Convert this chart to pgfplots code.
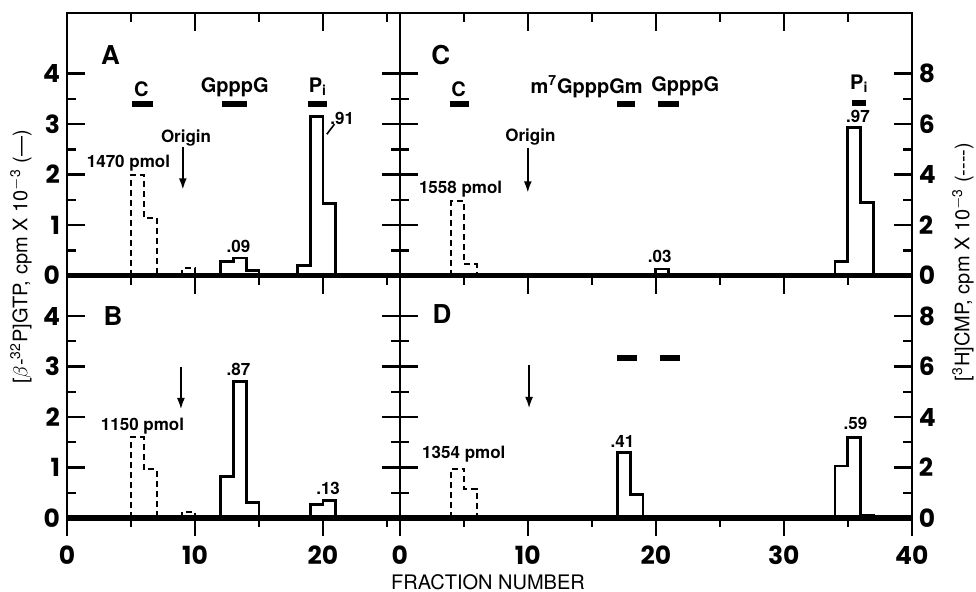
\documentclass[border=0pt]{standalone}
\usepackage{fontspec}
\setmainfont{TeX Gyre Heros}
\newfontfamily\poppins{Poppins}
\usepackage{pgfplots}
\pgfplotsset{compat=1.18}
\usetikzlibrary{arrows.meta}

\newcommand\tfont{\poppins\bfseries\fontsize{12.5}{14}\selectfont}
\newcommand\afont{\bfseries\fontsize{8.5}{10}\selectfont}
\newcommand\lfont{\bfseries\fontsize{10}{12}\selectfont}
\newcommand\pfont{\bfseries\fontsize{13}{15}\selectfont}

\tikzset{
  lab/.style={font=\afont, inner sep=0pt},
  mbar/.style={line width=3pt, black},
  darr/.style={line width=1.2pt, -{Latex[length=6pt,width=4pt]}},
}
\pgfplotsset{
  panel/.style={scale only axis, anchor=south west, xmin=0, ymin=0, clip=false,
    ytick={0,1,2,3,4}, minor ytick={0.5,1.5,2.5,3.5},
    tick align=inside, major tick length=9pt, minor tick length=4.5pt,
    axis line style={line width=1.3pt}, tick style={line width=1.2pt, black},
    tick label style={font=\tfont}, /pgf/number format/assume math mode=true},
  under/.style={scale only axis, anchor=south west, xmin=0, ymin=0,
    ytick=\empty, xtick pos=left, tick align=outside,
    major tick length=9pt, minor tick length=4.5pt,
    axis line style={draw=none}, tick style={line width=1.2pt, black},
    tick label style={font=\tfont}, xticklabel style={yshift=-1.5pt},
    /pgf/number format/assume math mode=true},
  solidh/.style={const plot, black, line width=1.4pt, mark=none},
  dashh/.style={const plot, black, line width=1pt, dash pattern=on 3pt off 2pt, mark=none},
}

\begin{document}
\begin{tikzpicture}
% ---- A (top left)
\begin{axis}[panel, at={(0pt,121.2pt)}, width=166.4pt, height=131.3pt,
  xmax=26, ymax=5.2, xtick={0,10,20}, minor xtick={5,15,25},
  xtick pos=right, xticklabels={}, yticklabel pos=left]
\addplot[dashh] coordinates {(5,0) (5,2.0) (6,1.15) (7,0)};
\addplot[dashh] coordinates {(9,0) (9,0.15) (10,0)};
\addplot[solidh] coordinates {(12,0) (12,0.28) (13,0.35) (14,0.1) (15,0)};
\addplot[solidh] coordinates {(18,0) (18,0.2) (19,3.15) (20,1.42) (21,0)};
\draw[line width=2.6pt] (rel axis cs:0,0) -- (rel axis cs:1,0);
\node[font=\pfont] at (axis cs:3.4,4.37) {A};
\node[font=\lfont] at (axis cs:5.8,3.7) {C};
\draw[mbar] (axis cs:5.1,3.4) -- (axis cs:6.7,3.4);
\node[font=\lfont] at (axis cs:13.1,3.72) {GpppG};
\draw[mbar] (axis cs:12.1,3.4) -- (axis cs:14.1,3.4);
\node[font=\lfont] at (axis cs:19.6,3.74) {P\textsubscript{i}};
\draw[mbar] (axis cs:18.8,3.4) -- (axis cs:20.3,3.4);
\node[lab] at (axis cs:21.5,3.12) {.91};
\draw[line width=0.8pt] (axis cs:20.3,2.8) -- (axis cs:20.9,3.0);
\node[lab] at (axis cs:13.4,0.57) {.09};
\node[lab] at (axis cs:4.8,2.22) {1470 pmol};
\node[lab] at (axis cs:9.3,2.73) {Origin};
\draw[darr] (axis cs:9.05,2.54) -- (axis cs:9.05,1.69);
\end{axis}
% ---- B (bottom left)
\begin{axis}[panel, at={(0pt,0pt)}, width=166.4pt, height=121.2pt,
  xmax=26, ymax=4.8, xtick={0,10,20}, minor xtick={5,15,25},
  xtick pos=right, xticklabels={}, yticklabel pos=left]
\addplot[dashh] coordinates {(5,0) (5,1.6) (6,0.97) (7,0)};
\addplot[dashh] coordinates {(9,0) (9,0.12) (10,0)};
\addplot[solidh] coordinates {(12,0) (12,0.82) (13,2.7) (14,0.3) (15,0)};
\addplot[solidh] coordinates {(19,0) (19,0.26) (20,0.34) (21,0)};
\draw[line width=2.6pt] (rel axis cs:0,0) -- (rel axis cs:1,0);
\node[font=\pfont] at (axis cs:3.6,4.0) {B};
\node[lab] at (axis cs:13.4,2.94) {.87};
\node[lab] at (axis cs:20.4,0.58) {.13};
\node[lab] at (axis cs:5.9,1.81) {1150 pmol};
\draw[darr] (axis cs:8.9,3.0) -- (axis cs:8.9,2.14);
\end{axis}
\begin{axis}[under, at={(0pt,0pt)}, width=166.4pt, height=121.2pt,
  xmax=26, ymax=4.8, xtick={0,10,20}, minor xtick={5,15,25}]
\end{axis}
% ---- C (top right)
\begin{axis}[panel, at={(166.4pt,121.2pt)}, width=256pt, height=131.3pt,
  xmax=40, ymax=5.2, xtick={0,10,20,30,40}, minor xtick={5,15,25,35},
  xtick pos=right, xticklabels={}, yticklabel pos=right, yticklabels={0,2,4,6,8}]
\addplot[dashh] coordinates {(4,0) (4,1.47) (5,0.23) (6,0)};
\addplot[solidh] coordinates {(20,0) (20,0.13) (21,0)};
\addplot[solidh] coordinates {(34,0) (34,0.28) (35,2.93) (36,1.45) (37,0)};
\draw[line width=2.6pt] (rel axis cs:0,0) -- (rel axis cs:1,0);
\node[font=\pfont] at (axis cs:3.2,4.36) {C};
\node[font=\lfont] at (axis cs:4.6,3.7) {C};
\draw[mbar] (axis cs:3.9,3.4) -- (axis cs:5.4,3.4);
\node[font=\lfont] at (axis cs:14.6,3.74) {m\textsuperscript{7}GpppGm};
\draw[mbar] (axis cs:17.0,3.4) -- (axis cs:18.4,3.4);
\node[font=\lfont] at (axis cs:22.3,3.74) {GpppG};
\draw[mbar] (axis cs:20.2,3.4) -- (axis cs:21.8,3.4);
\node[font=\lfont] at (axis cs:35.9,3.8) {P\textsubscript{i}};
\draw[mbar] (axis cs:35.3,3.42) -- (axis cs:36.4,3.42);
\node[lab] at (axis cs:35.8,3.16) {.97};
\node[lab] at (axis cs:10.2,2.75) {Origin};
\draw[darr] (axis cs:10.0,2.52) -- (axis cs:10.0,1.63);
\node[lab] at (axis cs:4.75,1.71) {1558 pmol};
\node[lab] at (axis cs:20.3,0.38) {.03};
\end{axis}
% ---- D (bottom right)
\begin{axis}[panel, at={(166.4pt,0pt)}, width=256pt, height=121.2pt,
  xmax=40, ymax=4.8, xtick={0,10,20,30,40}, minor xtick={5,15,25,35},
  xtick pos=right, xticklabels={}, yticklabel pos=right, yticklabels={0,2,4,6,8}]
\addplot[dashh] coordinates {(4,0) (4,0.98) (5,0.57) (6,0)};
\addplot[solidh] coordinates {(17,0) (17,1.29) (18,0.46) (19,0)};
\addplot[solidh] coordinates {(34,0) (34,1.03) (35,1.6) (36,0.05) (37,0)};
\draw[line width=2.6pt] (rel axis cs:0,0) -- (rel axis cs:1,0);
\node[font=\pfont] at (axis cs:3.3,4.03) {D};
\draw[mbar] (axis cs:17.0,3.17) -- (axis cs:18.5,3.17);
\draw[mbar] (axis cs:20.3,3.17) -- (axis cs:21.9,3.17);
\draw[darr] (axis cs:10.1,3.03) -- (axis cs:10.1,2.16);
\node[lab] at (axis cs:17.4,1.52) {.41};
\node[lab] at (axis cs:5.0,1.26) {1354 pmol};
\node[lab] at (axis cs:35.6,1.87) {.59};
\end{axis}
\begin{axis}[under, at={(166.4pt,0pt)}, width=256pt, height=121.2pt,
  xmax=40, ymax=4.8, xtick={0,10,20,30,40}, minor xtick={5,15,25,35}]
\end{axis}
% ---- outer labels
\node[rotate=90, font=\fontsize{10}{12}\selectfont] at (-23pt,130.5pt)
  {[$\beta$-\textsuperscript{32}P]GTP, cpm X 10\textsuperscript{$-$3} (---)};
\node[rotate=90, font=\fontsize{10}{12}\selectfont] at (448pt,128pt)
  {[\textsuperscript{3}H]CMP, cpm X 10\textsuperscript{$-$3} (-{}-{}-{}-)};
\node[inner sep=0pt, font=\fontsize{10}{12}\selectfont] at (210.5pt,-32pt) {FRACTION NUMBER};
\pgfresetboundingbox
\path (-33.5pt,-36.5pt) rectangle (454.5pt,259pt);
\end{tikzpicture}
\end{document}
